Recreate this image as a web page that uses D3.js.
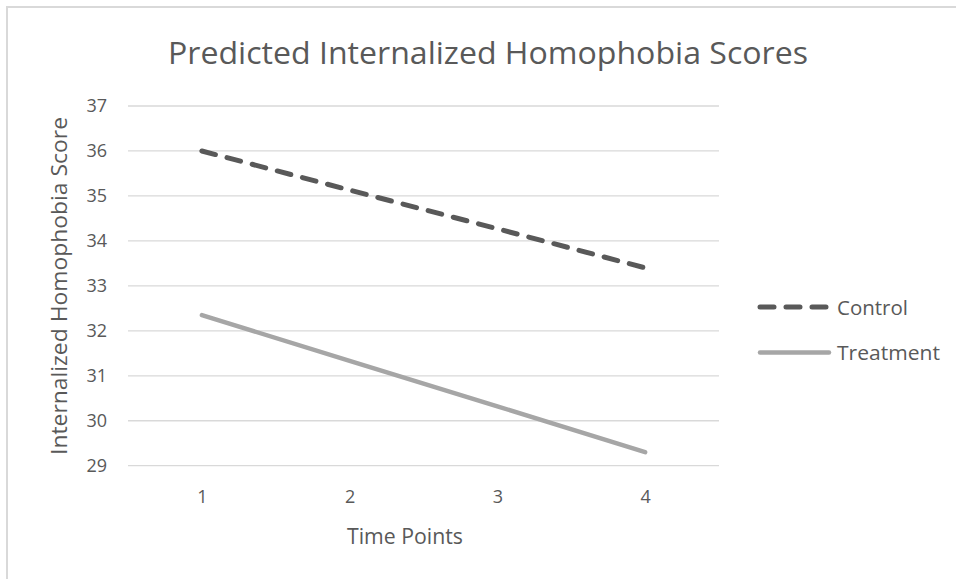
<!DOCTYPE html>
<html>
<head>
<meta charset="utf-8">
<script src="https://cdn.jsdelivr.net/npm/d3@7"></script>
<style>
  html, body { margin: 0; padding: 0; background: #fff; }
  svg { display: block; font-family: "Open Sans", "Noto Sans", sans-serif; }
</style>
</head>
<body>
<svg id="chart" width="956" height="579"></svg>
<script>
// Data
const timePoints = ["1", "2", "3", "4"];
const controlScores = [36.0, 35.13, 34.27, 33.4];
const treatmentScores = [32.35, 31.33, 30.32, 29.3];
const yTicks = [29, 30, 31, 32, 33, 34, 35, 36, 37];
const seriesNames = ["Control", "Treatment"];

const series = [
  { name: seriesNames[0], values: controlScores, color: "#595959", width: 5, dash: "14,12", labelLen: 71 },
  { name: seriesNames[1], values: treatmentScores, color: "#a6a6a6", width: 4.5, dash: null, labelLen: 103 }
];

const W = 956, H = 579;
const plot = { left: 128, right: 719, top: 106, bottom: 465.7 };
const textColor = "#595959";
const gridColor = "#d9d9d9";
const font = "Open Sans, Noto Sans, sans-serif";

const svg = d3.select("#chart");

// Chart frame (top and left edges)
svg.append("line").attr("x1", 6).attr("x2", W).attr("y1", 7).attr("y2", 7)
  .attr("stroke", "#d9d9d9").attr("stroke-width", 2);
svg.append("line").attr("x1", 7).attr("x2", 7).attr("y1", 6).attr("y2", H)
  .attr("stroke", "#d9d9d9").attr("stroke-width", 2);

const x = d3.scalePoint().domain(timePoints)
  .range([plot.left, plot.right]).padding(0.5);
const y = d3.scaleLinear().domain([29, 37]).range([plot.bottom, plot.top]);

// Horizontal gridlines
svg.append("g")
  .selectAll("line")
  .data(yTicks)
  .join("line")
  .attr("x1", plot.left).attr("x2", plot.right)
  .attr("y1", d => y(d)).attr("y2", d => y(d))
  .attr("stroke", gridColor).attr("stroke-width", 1.3);

// Y axis labels
const yAxis = svg.append("g")
  .attr("transform", `translate(${plot.left - 21},0)`)
  .call(d3.axisLeft(y).tickValues(yTicks).tickSize(0).tickPadding(0));
yAxis.select(".domain").remove();
yAxis.selectAll("text")
  .attr("fill", textColor).attr("font-size", 18)
  .attr("font-family", font);

// X axis labels
const xAxis = svg.append("g")
  .attr("transform", `translate(0,${plot.bottom + 25})`)
  .call(d3.axisBottom(x).tickSize(0).tickPadding(0));
xAxis.select(".domain").remove();
xAxis.selectAll("text")
  .attr("fill", textColor).attr("font-size", 18)
  .attr("font-family", font);

// Lines
const line = d3.line()
  .x((d, i) => x(timePoints[i]))
  .y(d => y(d));

svg.append("g")
  .selectAll("path")
  .data(series)
  .join("path")
  .attr("d", d => line(d.values))
  .attr("fill", "none")
  .attr("stroke", d => d.color)
  .attr("stroke-width", d => d.width)
  .attr("stroke-linecap", "round")
  .attr("stroke-dasharray", d => d.dash);

// Title
svg.append("text")
  .attr("x", 488).attr("y", 64)
  .attr("text-anchor", "middle")
  .attr("fill", textColor)
  .attr("font-size", 31)
  .attr("textLength", 640)
  .attr("lengthAdjust", "spacingAndGlyphs")
  .text("Predicted Internalized Homophobia Scores");

// Axis titles
svg.append("text")
  .attr("x", 405).attr("y", 544)
  .attr("text-anchor", "middle")
  .attr("fill", textColor)
  .attr("font-size", 21)
  .attr("textLength", 116)
  .attr("lengthAdjust", "spacingAndGlyphs")
  .text("Time Points");

svg.append("text")
  .attr("transform", "translate(67,286) rotate(-90)")
  .attr("text-anchor", "middle")
  .attr("fill", textColor)
  .attr("font-size", 21)
  .attr("textLength", 338)
  .attr("lengthAdjust", "spacingAndGlyphs")
  .text("Internalized Homophobia Score");

// Legend
const legend = svg.append("g");
const legendRows = legend.selectAll("g")
  .data(series)
  .join("g")
  .attr("transform", (d, i) => `translate(760,${307 + i * 45.5})`);
legendRows.append("line")
  .attr("x1", 0).attr("x2", 69).attr("y1", 0).attr("y2", 0)
  .attr("stroke", d => d.color)
  .attr("stroke-width", d => d.width)
  .attr("stroke-linecap", "round")
  .attr("stroke-dasharray", d => d.dash);
legendRows.append("text")
  .attr("x", 77).attr("y", 7.5)
  .attr("fill", textColor)
  .attr("font-size", 20)
  .attr("textLength", d => d.labelLen)
  .attr("lengthAdjust", "spacingAndGlyphs")
  .text(d => d.name);
</script>
</body>
</html>
